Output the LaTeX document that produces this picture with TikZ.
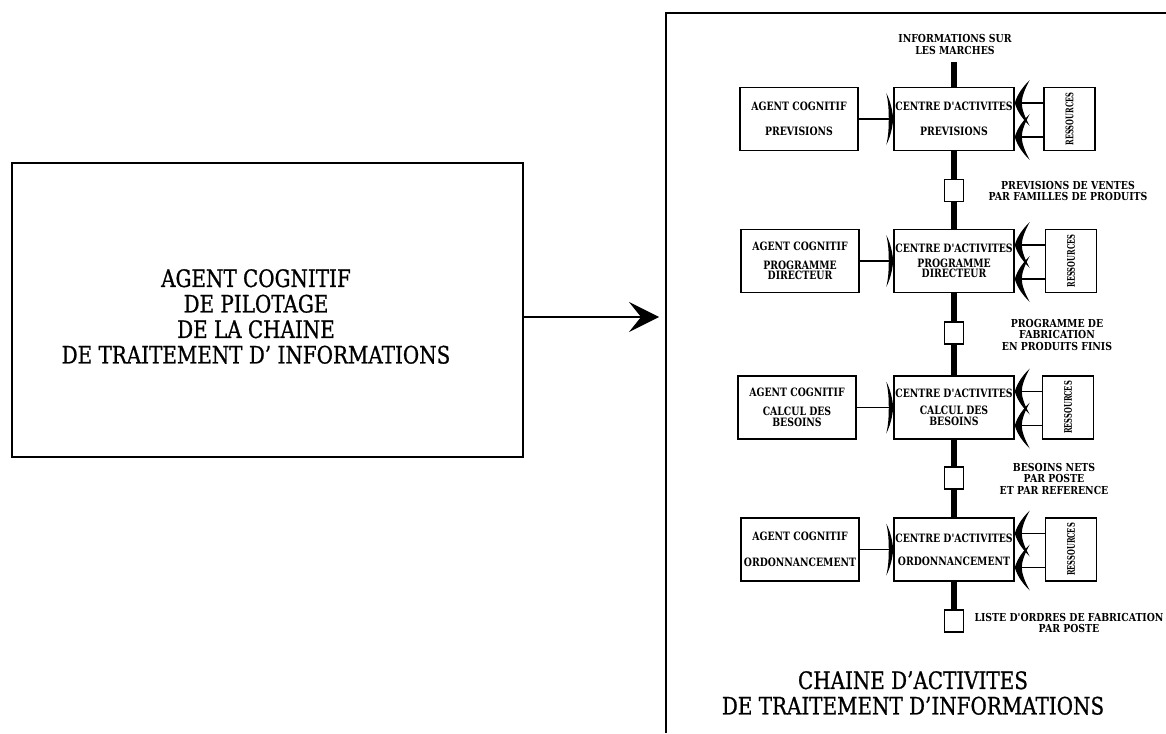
\documentclass[tikz,border=0pt]{standalone}
\usepackage{fontspec}
\setmainfont{DejaVu Serif}[FakeStretch=0.83,FakeBold=0.8]
\newfontfamily\labf{DejaVu Serif}[FakeStretch=0.81]
\newfontfamily\extf{DejaVu Serif}[FakeStretch=0.85]
\newfontfamily\resf{DejaVu Serif}[FakeStretch=0.64]
\usetikzlibrary{arrows.meta,calc}
\begin{document}
\begin{tikzpicture}[x=1pt,y=-1pt,
 box/.style={draw, line width=1.5pt, inner sep=0pt, minimum height=63pt, align=center, font=\labf\bfseries\fontsize{11.5}{10.5}\selectfont},
 agent/.style={box, minimum width=118pt},
 centre/.style={box, minimum width=120pt},
 res/.style={draw, line width=1.5pt, inner sep=0pt, minimum width=51pt, minimum height=63pt},
 rest/.style={rotate=90, inner sep=0pt, font=\resf\bfseries\fontsize{10.5}{10.5}\selectfont},
 sq/.style={draw, fill=white, line width=1.3pt, minimum width=19pt, minimum height=22pt, inner sep=0pt},
 bar/.style={line width=6pt},
 lab/.style={align=center, inner sep=0pt, font=\extf\bfseries\fontsize{11}{11.5}\selectfont},
 big/.style={align=center, inner sep=0pt, font=\fontsize{24}{25.5}\selectfont},
 conn/.style={line width=1.5pt},
 frame/.style={line width=1.8pt},
 resh/.pic={\fill (0,0) .. controls (3,-10) and (9,-17) .. (15,-23) .. controls (10,-14) and (7,-6) .. (7,0) .. controls (7,6) and (10,14) .. (15,23) .. controls (9,17) and (3,10) .. (0,0) -- cycle;},
 feedh/.pic={\fill (0,0) .. controls (-1,-10) and (-3,-18) .. (-7,-26) .. controls (-5,-18) and (-4.5,-9) .. (-4.5,0) .. controls (-4.5,9) and (-5,18) .. (-7,26) .. controls (-3,18) and (-1,10) .. (0,0) -- cycle;}
]
\useasboundingbox (0,0) rectangle (1166,733);

% left panel
\node[draw, line width=1.5pt, minimum width=511pt, minimum height=294pt, inner sep=0pt] (pilot) at (267.5,310) {};
\node[big] (pilotT) at (256,316.5) {AGENT COGNITIF\\DE PILOTAGE\\DE LA CHAINE\\DE TRAITEMENT D' INFORMATIONS};
\coordinate (tip) at (659,317);
\draw[line width=1.5pt, -{Stealth[length=30pt,width=30pt,inset=12pt]}] (pilot.east |- tip) -- (tip);

% right frame
\coordinate (fbl) at (666,733);
\coordinate (ftl) at (666,13);
\coordinate (ftr) at (1166,13);
\draw[frame] (fbl) -- (ftl) -- (ftr);

% rows
\node[agent] (a1) at (799,119) {AGENT COGNITIF\\[14.5pt]PREVISIONS};
\node[centre] (c1) at (954,119) {CENTRE D'ACTIVITES\\[14.5pt]PREVISIONS};
\node[res] (r1) at (1069.5,119) {};
\node[rest] (r1t) at (r1) {RESSOURCES};

\node[agent] (a2) at (800,261) {AGENT COGNITIF\\[8.5pt]PROGRAMME\\DIRECTEUR};
\node[centre] (c2) at (954,261) {CENTRE D'ACTIVITES\\[4.5pt]PROGRAMME\\DIRECTEUR};
\node[res] (r2) at (1071,261) {};
\node[rest] (r2t) at (r2) {RESSOURCES};

\node[agent] (a3) at (797,407.5) {AGENT COGNITIF\\[8.5pt]CALCUL DES\\BESOINS};
\node[centre] (c3) at (954,407.5) {CENTRE D'ACTIVITES\\[6.5pt]CALCUL DES\\BESOINS};
\node[res] (r3) at (1068,407.5) {};
\node[rest] (r3t) at (r3) {RESSOURCES};

\node[agent] (a4) at (800,549.5) {AGENT COGNITIF\\[15.5pt]ORDONNANCEMENT};
\node[centre] (c4) at (954,549.5) {CENTRE D'ACTIVITES\\[12.5pt]ORDONNANCEMENT};
\node[res] (r4) at (1071,549.5) {};
\node[rest] (r4t) at (r4) {RESSOURCES};

% vertical flow
\coordinate (b0) at (954,62);
\draw[bar] (b0) -- (c1.north);
\draw[bar] (c1.south) -- (c2.north);
\draw[bar] (c2.south) -- (c3.north);
\draw[bar] (c3.south) -- (c4.north);
\node[sq] (s1) at (954,190.5) {};
\node[sq] (s2) at (954,333) {};
\node[sq] (s3) at (954,478) {};
\node[sq] (s4) at (954,621) {};
\draw[bar] (c4.south) -- (s4.north);

% feeds and resources
\foreach \i in {1,2,3,4}{
  \draw[conn] (a\i) -- (c\i);
  \pic at (c\i.west) {feedh};
  \draw[conn] ($(r\i.west)+(0,-16)$) -- ($(c\i.east)+(0,-16)$);
  \draw[conn] ($(r\i.west)+(0,18)$) -- ($(c\i.east)+(0,18)$);
  \pic at ($(c\i.east)+(0,-16)$) {resh};
  \pic at ($(c\i.east)+(0,18)$) {resh};
}

% labels
\node[lab] (info) at (955,44.5) {INFORMATIONS SUR\\LES MARCHES};
\node[lab] (lab1) at (1068,191) {PREVISIONS DE VENTES\\PAR FAMILLES DE PRODUITS};
\node[lab] (lab2) at (1057,334.5) {PROGRAMME DE\\FABRICATION\\EN PRODUITS FINIS};
\node[lab] (lab3) at (1054,478.5) {BESOINS NETS\\PAR POSTE\\ET PAR REFERENCE};
\node[lab] (lab4) at (1069,623) {LISTE D'ORDRES DE FABRICATION\\PAR POSTE};
\node[big] (title) at (913,693) {CHAINE D'ACTIVITES\\DE TRAITEMENT D'INFORMATIONS};
\end{tikzpicture}
\end{document}
